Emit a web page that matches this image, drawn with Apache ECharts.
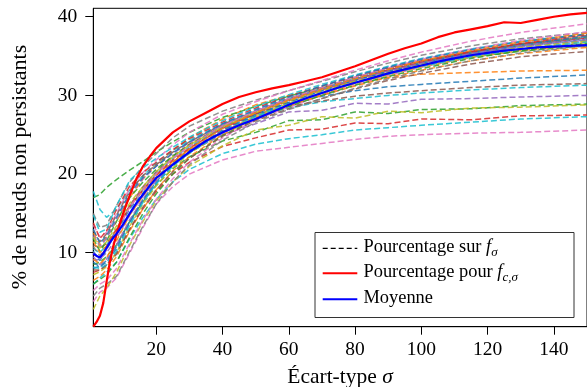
<!DOCTYPE html>
<html>
<head>
<meta charset="utf-8">
<script src="https://cdn.jsdelivr.net/npm/echarts@6/dist/echarts.min.js"></script>
<style>
html,body{margin:0;padding:0;background:#fff;}
#c{width:587px;height:387px;}
</style>
</head>
<body>
<div id="c"></div>
<script>
// ---- data ----
const xTicks = [20, 40, 60, 80, 100, 120, 140];
const yTicks = [10, 20, 30, 40];

// sample positions (sigma) for the individual dashed curves
const X = [1, 3, 5, 8, 12, 16, 20, 25, 30, 40, 50, 60, 70, 80, 90, 100, 115, 130, 150];

const s01 = [3.8, 5.0, 5.5, 6.8, 10.0, 13.2, 16.2, 18.4, 20.0, 21.8, 22.9, 23.4, 23.9, 24.4, 24.8, 25.0, 25.2, 25.3, 25.6];
const s02 = [6.0, 6.8, 7.5, 8.8, 11.8, 14.5, 16.8, 19.0, 20.6, 22.6, 23.8, 24.5, 25.0, 25.6, 25.9, 26.2, 26.6, 27.0, 27.3];
const s03 = [7.5, 7.8, 8.5, 10.0, 13.0, 15.6, 17.8, 20.0, 21.5, 23.5, 24.6, 25.6, 25.7, 26.5, 26.4, 27.0, 26.9, 27.4, 27.5];
const s04 = [8.5, 8.8, 9.5, 11.0, 14.0, 16.5, 18.6, 20.7, 22.2, 24.2, 25.3, 26.8, 26.9, 27.9, 27.7, 28.2, 28.3, 28.7, 28.9];
const s05 = [2.8, 4.5, 5.5, 7.5, 11.0, 14.0, 16.6, 19.0, 21.0, 23.6, 25.6, 26.2, 27.3, 27.1, 28.0, 27.8, 28.4, 28.5, 28.8];
const s06 = [9.0, 9.2, 10.0, 11.8, 14.8, 17.2, 19.2, 21.3, 22.8, 25.0, 26.4, 27.9, 28.1, 29.0, 28.9, 29.5, 29.6, 29.8, 30.0];
const s07 = [10.5, 10.0, 11.0, 12.8, 15.8, 18.0, 20.0, 22.0, 23.5, 25.8, 27.4, 28.4, 29.2, 29.6, 30.0, 30.3, 30.7, 31.0, 31.3];
const s08 = [11.0, 10.6, 11.2, 13.0, 16.0, 18.4, 20.3, 22.3, 23.8, 26.1, 27.6, 28.6, 29.3, 29.9, 30.3, 30.6, 31.0, 31.3, 31.5];
const s09 = [8.0, 8.3, 9.0, 10.8, 14.0, 16.8, 19.0, 21.4, 23.2, 25.9, 27.7, 29.0, 29.9, 30.6, 31.1, 31.4, 31.8, 32.2, 32.6];
const s10 = [12.5, 11.0, 12.0, 14.0, 17.0, 19.4, 21.2, 23.0, 24.6, 27.0, 28.8, 30.0, 31.0, 31.7, 32.2, 32.7, 32.9, 33.1, 33.2];
const s11 = [17.0, 17.4, 18.3, 19.3, 20.5, 21.6, 22.8, 24.1, 25.3, 27.2, 28.6, 29.9, 31.0, 32.0, 33.0, 33.9, 34.9, 35.6, 36.3];
const s12 = [17.8, 15.5, 14.5, 15.5, 18.0, 19.8, 21.4, 23.0, 24.3, 26.4, 28.1, 29.6, 30.9, 32.1, 33.2, 34.2, 35.3, 36.2, 37.0];
const s13 = [15.0, 13.2, 13.5, 16.0, 19.0, 21.0, 22.6, 24.6, 26.1, 28.0, 29.4, 30.6, 31.8, 33.0, 34.1, 35.1, 36.3, 37.2, 38.0];
const s14 = [13.5, 12.0, 12.6, 15.0, 18.2, 20.2, 21.8, 23.7, 25.3, 27.6, 29.2, 30.6, 31.9, 33.2, 34.4, 35.5, 36.9, 38.0, 39.1];
const s15 = [10.2, 9.0, 10.4, 12.6, 15.6, 17.6, 19.6, 21.5, 23.0, 25.5, 27.4, 29.1, 30.6, 31.9, 33.0, 34.0, 35.3, 36.3, 37.2];
const s16 = [6.5, 7.0, 7.8, 9.5, 12.8, 15.6, 18.0, 20.4, 22.2, 25.0, 27.1, 28.7, 30.1, 31.5, 32.6, 33.6, 34.8, 35.7, 36.5];
const s17 = [11.8, 10.2, 11.5, 14.0, 17.0, 19.0, 20.6, 22.3, 23.7, 26.0, 27.9, 29.5, 30.9, 32.2, 33.3, 34.3, 35.5, 36.5, 37.4];
const s18 = [13.8, 11.8, 12.8, 15.5, 18.5, 20.2, 21.5, 23.1, 24.5, 26.6, 28.4, 29.9, 31.2, 32.4, 33.5, 34.4, 35.6, 36.5, 37.3];
const s19 = [9.5, 8.5, 9.2, 11.0, 14.2, 16.8, 19.0, 21.1, 22.7, 25.2, 27.1, 28.8, 30.3, 31.6, 32.8, 33.9, 35.2, 36.2, 37.0];
const s20 = [12.8, 11.4, 12.4, 14.8, 17.8, 19.8, 21.2, 22.8, 24.1, 26.3, 28.0, 29.6, 31.0, 32.3, 33.4, 34.4, 35.6, 36.6, 37.6];
const s21 = [5.2, 6.0, 6.5, 8.0, 11.2, 14.2, 16.8, 19.4, 21.5, 24.6, 26.9, 28.5, 30.0, 31.3, 32.5, 33.6, 34.9, 35.9, 36.8];
const s22 = [10.8, 9.6, 10.8, 13.0, 16.0, 18.1, 20.1, 22.0, 23.6, 26.0, 27.8, 29.4, 30.8, 32.1, 33.2, 34.2, 35.4, 36.4, 37.3];
const s23 = [7.2, 7.6, 8.2, 10.0, 13.4, 16.2, 18.5, 20.8, 22.6, 25.3, 27.4, 29.0, 30.4, 31.6, 32.7, 33.7, 34.9, 35.9, 36.7];
const s24 = [14.8, 12.6, 13.0, 16.0, 19.2, 20.8, 22.0, 23.4, 24.7, 26.8, 28.6, 30.1, 31.4, 32.6, 33.7, 34.7, 35.9, 36.9, 37.8];
const s25 = [8.8, 8.2, 8.8, 10.5, 13.8, 16.6, 18.8, 21.1, 22.9, 25.6, 27.6, 29.2, 30.6, 31.9, 33.1, 34.1, 35.4, 36.4, 37.5];
const s26 = [11.4, 10.0, 10.9, 13.0, 15.9, 17.9, 19.8, 21.6, 23.1, 25.4, 27.2, 28.7, 30.0, 31.2, 32.3, 33.2, 34.4, 35.3, 36.1];
const s27 = [6.0, 6.6, 7.2, 8.8, 12.0, 15.0, 17.5, 20.0, 22.0, 24.9, 27.0, 28.6, 30.0, 31.3, 32.4, 33.4, 34.7, 35.7, 36.6];
const s28 = [9.8, 9.4, 10.7, 12.9, 15.9, 18.0, 19.9, 21.8, 23.3, 25.8, 27.7, 29.3, 30.7, 32.0, 33.2, 34.2, 35.5, 36.6, 37.7];
const s29 = [12.2, 10.8, 11.8, 14.2, 17.4, 19.4, 21.0, 22.6, 24.0, 26.2, 28.0, 29.5, 30.8, 32.0, 33.1, 34.1, 35.3, 36.3, 37.1];
const s30 = [7.8, 7.8, 8.4, 9.8, 13.0, 15.8, 18.0, 20.3, 22.0, 24.8, 26.8, 28.3, 29.6, 30.8, 31.9, 32.8, 34.0, 34.9, 35.6];
const s31 = [10.0, 9.2, 10.4, 12.7, 15.8, 18.0, 20.0, 22.0, 23.6, 26.1, 28.0, 29.6, 31.0, 32.3, 33.5, 34.6, 35.9, 37.0, 38.1];
const s32 = [4.5, 5.5, 6.0, 7.0, 10.2, 13.4, 16.2, 19.0, 21.2, 24.3, 26.6, 28.2, 29.6, 30.9, 32.1, 33.1, 34.4, 35.4, 36.3];
const s33 = [12.0, 10.6, 11.4, 13.4, 16.3, 18.4, 20.3, 22.2, 23.7, 26.0, 27.8, 29.3, 30.6, 31.8, 32.9, 33.9, 35.1, 36.1, 36.9];
const s34 = [8.2, 8.0, 8.5, 10.2, 13.5, 16.4, 18.8, 21.0, 22.7, 25.3, 27.3, 28.9, 30.3, 31.6, 32.7, 33.7, 34.9, 35.9, 36.8];
const s35 = [13.0, 11.2, 12.2, 14.5, 17.6, 19.6, 21.0, 22.7, 24.1, 26.4, 28.2, 29.8, 31.2, 32.5, 33.6, 34.6, 35.8, 36.8, 37.8];
const s36 = [9.2, 8.6, 9.4, 11.5, 14.8, 17.2, 19.4, 21.5, 23.2, 25.8, 27.8, 29.4, 30.8, 32.1, 33.3, 34.4, 35.7, 36.8, 37.9];

const dashedCurves = [s01,s02,s03,s04,s05,s06,s07,s08,s09,s10,s11,s12,s13,s14,s15,s16,s17,s18,
                      s19,s20,s21,s22,s23,s24,s25,s26,s27,s28,s29,s30,s31,s32,s33,s34,s35,s36];

// sample positions for the red and blue curves
const XM = [1,2,3,4,5,6,7,8,10,12,14,16,18,20,25,30,35,40,45,50,55,60,65,70,75,80,85,90,95,100,105,110,115,120,125,130,135,140,145,150];
const meanCurve = [9.9,9.6,9.4,9.9,10.6,11.3,11.9,12.4,13.6,15.0,16.3,17.4,18.5,19.5,21.2,22.8,24.2,25.3,26.2,27.0,27.9,28.8,29.6,30.3,31.0,31.6,32.2,32.8,33.3,33.8,34.3,34.7,35.1,35.4,35.7,35.9,36.1,36.2,36.3,36.4];
const redCurve  = [0.6,1.2,2.0,3.6,6.3,8.8,10.8,12.3,15.0,17.3,19.4,21.0,22.2,23.3,25.3,26.7,27.8,28.9,29.8,30.4,30.9,31.3,31.8,32.3,33.0,33.7,34.5,35.3,36.0,36.6,37.4,38.0,38.4,38.8,39.3,39.2,39.6,40.0,40.3,40.5];

const legendLabels = ['Pourcentage sur ', 'Pourcentage pour ', 'Moyenne'];

// ---- style ----
const palette = ['#1f77b4','#ff7f0e','#2ca02c','#d62728','#9467bd','#8c564b','#e377c2','#7f7f7f','#bcbd22','#17becf'];
const curveColorIdx = [6,9,3,2,8,4,9,5,0,1,2,9,7,6,0,1,2,3,4,5,6,7,8,9,0,1,2,3,4,5,6,7,8,9,0,1];
const FONT = '"Liberation Serif", "Times New Roman", serif';

const pairs = (xs, ys) => xs.map((x, i) => [x, ys[i]]);

const series = dashedCurves.map((ys, i) => ({
  type: 'line',
  data: pairs(X, ys),
  symbol: 'none',
  silent: true,
  animation: false,
  z: 2,
  lineStyle: { color: palette[curveColorIdx[i]], width: 1.5, type: [6, 3], opacity: 0.85 }
}));
series.push({
  type: 'line', data: pairs(XM, redCurve), symbol: 'none', silent: true, animation: false, z: 3,
  lineStyle: { color: '#ff0000', width: 2.2 }
});
series.push({
  type: 'line', data: pairs(XM, meanCurve), symbol: 'none', silent: true, animation: false, z: 4,
  lineStyle: { color: '#0000ff', width: 2.2 }
});

const chart = echarts.init(document.getElementById('c'), null, { renderer: 'canvas' });

const legX = 315, legY = 232.5, legW = 259, legH = 85;
const rowY = [248.3, 273.3, 299.3];
const lineX0 = 322.7, lineX1 = 357.3, textX = 363.5;

const subRich = {
  n: { fontFamily: FONT, fontSize: 18.4, lineHeight: 24, color: '#000' },
  f: { fontFamily: FONT, fontSize: 18.4, lineHeight: 24, fontStyle: 'italic', color: '#000' },
  sub: { fontFamily: FONT, fontSize: 13, lineHeight: 14, fontStyle: 'italic', verticalAlign: 'bottom', color: '#000' }
};

chart.setOption({
  animation: false,
  grid: { left: 93.3, top: 8.3, width: 496.4, height: 318.4, show: true, borderColor: '#000', borderWidth: 1, backgroundColor: 'transparent' },
  xAxis: {
    type: 'value', min: 1, max: 150,
    axisLine: { show: true, onZero: false, lineStyle: { color: '#000', width: 1 } },
    axisTick: { show: true, customValues: xTicks, length: 8, inside: false, lineStyle: { color: '#000', width: 1 } },
    axisLabel: { customValues: xTicks, margin: 13, color: '#000', fontFamily: FONT, fontSize: 19.5 },
    splitLine: { show: false }
  },
  yAxis: {
    type: 'value', min: 0.6, max: 41.07,
    axisLine: { show: true, onZero: false, lineStyle: { color: '#000', width: 1 } },
    axisTick: { show: true, customValues: yTicks, length: 8, inside: false, lineStyle: { color: '#000', width: 1 } },
    axisLabel: { customValues: yTicks, margin: 16, color: '#000', fontFamily: FONT, fontSize: 19.5 },
    splitLine: { show: false }
  },
  series: series,
  graphic: [
    { type: 'rect', z: 100, shape: { x: legX, y: legY, width: legW, height: legH },
      style: { fill: 'rgba(255,255,255,0.9)', stroke: '#333', lineWidth: 1 } },
    { type: 'line', z: 101, shape: { x1: lineX0, y1: rowY[0], x2: lineX1, y2: rowY[0] },
      style: { stroke: '#000', lineWidth: 1.2, lineDash: [5, 3] } },
    { type: 'line', z: 101, shape: { x1: lineX0, y1: rowY[1], x2: lineX1, y2: rowY[1] },
      style: { stroke: '#ff0000', lineWidth: 2 } },
    { type: 'line', z: 101, shape: { x1: lineX0, y1: rowY[2], x2: lineX1, y2: rowY[2] },
      style: { stroke: '#0000ff', lineWidth: 2 } },
    { type: 'text', z: 101, x: textX, y: rowY[0] - 1,
      style: { text: '{n|' + legendLabels[0] + '}{f|f}{sub|σ}', rich: subRich, verticalAlign: 'middle', align: 'left' } },
    { type: 'text', z: 101, x: textX, y: rowY[1] - 1,
      style: { text: '{n|' + legendLabels[1] + '}{f|f}{sub|c,σ}', rich: subRich, verticalAlign: 'middle', align: 'left' } },
    { type: 'text', z: 101, x: textX, y: rowY[2] - 1,
      style: { text: legendLabels[2], fontFamily: FONT, fontSize: 18.4, fill: '#000', verticalAlign: 'middle', align: 'left' } },
    { type: 'text', z: 101, x: 340, y: 377,
      style: { text: '{n|Écart-type }{f|σ}', rich: {
        n: { fontFamily: FONT, fontSize: 21.5, color: '#000' },
        f: { fontFamily: FONT, fontSize: 21.5, fontStyle: 'italic', color: '#000' } },
        align: 'center', verticalAlign: 'middle' } },
    { type: 'text', z: 101, x: 20, y: 167, rotation: Math.PI / 2,
      style: { text: '% de nœuds non persistants', fontFamily: FONT, fontSize: 22, fill: '#000', align: 'center', verticalAlign: 'middle' } }
  ]
});
</script>
</body>
</html>
